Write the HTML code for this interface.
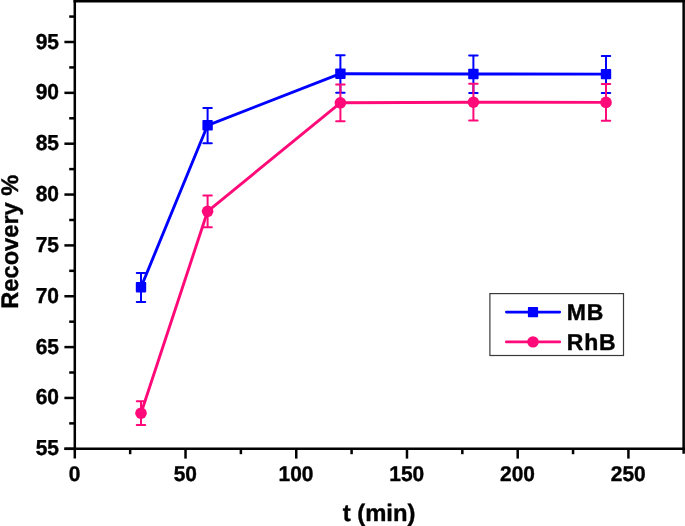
<!DOCTYPE html><html><head><meta charset="utf-8"><style>html,body{margin:0;padding:0;background:#fff}svg{display:block;will-change:transform;opacity:0.999}text{font-family:"Liberation Sans",sans-serif;font-weight:bold;text-rendering:geometricPrecision;fill:#000;stroke:#000;stroke-width:0.4px;stroke-linejoin:round}</style></head><body>
<svg width="685" height="526" viewBox="0 0 685 526">
<rect width="685" height="526" fill="#fff"/>
<path d="M141.0 273.0V301.9M136.75 273.0H145.25M136.75 301.9H145.25" stroke="#0000ff" stroke-width="2" fill="none" stroke-linecap="round"/>
<path d="M207.6 108.0V143.2M203.35 108.0H211.85M203.35 143.2H211.85" stroke="#0000ff" stroke-width="2" fill="none" stroke-linecap="round"/>
<path d="M340.4 55.2V92.7M336.15 55.2H344.65M336.15 92.7H344.65" stroke="#0000ff" stroke-width="2" fill="none" stroke-linecap="round"/>
<path d="M473.4 55.5V93.0M469.15 55.5H477.65M469.15 93.0H477.65" stroke="#0000ff" stroke-width="2" fill="none" stroke-linecap="round"/>
<path d="M606.0 55.9V93.0M601.75 55.9H610.25M601.75 93.0H610.25" stroke="#0000ff" stroke-width="2" fill="none" stroke-linecap="round"/>
<polyline points="141.0,287.2 207.6,125.3 340.4,73.7 473.4,74.0 606.0,74.1" fill="none" stroke="#0000ff" stroke-width="2.9" stroke-linejoin="round"/>
<rect x="135.8" y="282.0" width="10.4" height="10.4" rx="0.8" fill="#0000ff"/>
<rect x="202.4" y="120.1" width="10.4" height="10.4" rx="0.8" fill="#0000ff"/>
<rect x="335.2" y="68.5" width="10.4" height="10.4" rx="0.8" fill="#0000ff"/>
<rect x="468.2" y="68.8" width="10.4" height="10.4" rx="0.8" fill="#0000ff"/>
<rect x="600.8" y="68.9" width="10.4" height="10.4" rx="0.8" fill="#0000ff"/>
<path d="M141.0 401.2V425.0M136.75 401.2H145.25M136.75 425.0H145.25" stroke="#ff0a78" stroke-width="2" fill="none" stroke-linecap="round"/>
<path d="M207.6 195.6V227.2M203.35 195.6H211.85M203.35 227.2H211.85" stroke="#ff0a78" stroke-width="2" fill="none" stroke-linecap="round"/>
<path d="M340.4 84.6V121.3M336.15 84.6H344.65M336.15 121.3H344.65" stroke="#ff0a78" stroke-width="2" fill="none" stroke-linecap="round"/>
<path d="M473.4 83.8V120.4M469.15 83.8H477.65M469.15 120.4H477.65" stroke="#ff0a78" stroke-width="2" fill="none" stroke-linecap="round"/>
<path d="M606.0 84.1V120.7M601.75 84.1H610.25M601.75 120.7H610.25" stroke="#ff0a78" stroke-width="2" fill="none" stroke-linecap="round"/>
<polyline points="141.0,413.2 207.6,211.3 340.4,102.8 473.4,102.2 606.0,102.4" fill="none" stroke="#ff0a78" stroke-width="2.9" stroke-linejoin="round"/>
<circle cx="141.0" cy="413.2" r="5.8" fill="#ff0a78"/>
<circle cx="207.6" cy="211.3" r="5.8" fill="#ff0a78"/>
<circle cx="340.4" cy="102.8" r="5.8" fill="#ff0a78"/>
<circle cx="473.4" cy="102.2" r="5.8" fill="#ff0a78"/>
<circle cx="606.0" cy="102.4" r="5.8" fill="#ff0a78"/>
<g stroke="#000" stroke-width="2.5" fill="none" stroke-linecap="butt">
<path d="M74.8 0V458.6"/>
<path d="M73.55 1.3H685"/>
<path d="M683.65 0V453.8"/>
<path d="M64.4 448.8H685"/>
<path d="M64.4 448.80H74.8"/>
<path d="M64.4 397.95H74.8"/>
<path d="M64.4 347.10H74.8"/>
<path d="M64.4 296.25H74.8"/>
<path d="M64.4 245.40H74.8"/>
<path d="M64.4 194.55H74.8"/>
<path d="M64.4 143.70H74.8"/>
<path d="M64.4 92.85H74.8"/>
<path d="M64.4 42.00H74.8"/>
<path d="M69.2 423.38H74.8"/>
<path d="M69.2 372.52H74.8"/>
<path d="M69.2 321.68H74.8"/>
<path d="M69.2 270.83H74.8"/>
<path d="M69.2 219.98H74.8"/>
<path d="M69.2 169.12H74.8"/>
<path d="M69.2 118.28H74.8"/>
<path d="M69.2 67.43H74.8"/>
<path d="M69.2 16.57H74.8"/>
<path d="M185.53 448.8V458.6"/>
<path d="M296.25 448.8V458.6"/>
<path d="M406.98 448.8V458.6"/>
<path d="M517.70 448.8V458.6"/>
<path d="M628.42 448.8V458.6"/>
<path d="M130.16 448.8V454.2"/>
<path d="M240.89 448.8V454.2"/>
<path d="M351.61 448.8V454.2"/>
<path d="M462.34 448.8V454.2"/>
<path d="M573.06 448.8V454.2"/>
</g>
<text transform="translate(59.0 455.30) scale(0.967 1)" font-size="21.7" text-anchor="end">55</text>
<text transform="translate(59.0 404.45) scale(0.967 1)" font-size="21.7" text-anchor="end">60</text>
<text transform="translate(59.0 353.60) scale(0.967 1)" font-size="21.7" text-anchor="end">65</text>
<text transform="translate(59.0 302.75) scale(0.967 1)" font-size="21.7" text-anchor="end">70</text>
<text transform="translate(59.0 251.90) scale(0.967 1)" font-size="21.7" text-anchor="end">75</text>
<text transform="translate(59.0 201.05) scale(0.967 1)" font-size="21.7" text-anchor="end">80</text>
<text transform="translate(59.0 150.20) scale(0.967 1)" font-size="21.7" text-anchor="end">85</text>
<text transform="translate(59.0 99.35) scale(0.967 1)" font-size="21.7" text-anchor="end">90</text>
<text transform="translate(59.0 48.50) scale(0.967 1)" font-size="21.7" text-anchor="end">95</text>
<text transform="translate(74.60 480.7) scale(0.982 1)" font-size="21.3" text-anchor="middle">0</text>
<text transform="translate(185.33 480.7) scale(0.982 1)" font-size="21.3" text-anchor="middle">50</text>
<text transform="translate(296.05 480.7) scale(0.982 1)" font-size="21.3" text-anchor="middle">100</text>
<text transform="translate(406.78 480.7) scale(0.982 1)" font-size="21.3" text-anchor="middle">150</text>
<text transform="translate(517.50 480.7) scale(0.982 1)" font-size="21.3" text-anchor="middle">200</text>
<text transform="translate(628.22 480.7) scale(0.982 1)" font-size="21.3" text-anchor="middle">250</text>
<text x="379.1" y="520.8" font-size="23.8" text-anchor="middle">t (min)</text>
<text transform="translate(17.5 241.7) rotate(-90) scale(0.985 1)" font-size="24" text-anchor="middle">Recovery %</text>
<rect x="489.9" y="293.6" width="133.6" height="61.9" fill="#fff" stroke="#3a3a3a" stroke-width="1.2"/>
<path d="M506.3 312.1H559.8" stroke="#0000ff" stroke-width="2.6" stroke-linecap="round"/><rect x="527.9" y="307" width="10.2" height="10.2" rx="0.8" fill="#0000ff"/>
<path d="M506.3 341.9H559.8" stroke="#ff0a78" stroke-width="2.6" stroke-linecap="round"/><circle cx="533" cy="341.9" r="5.7" fill="#ff0a78"/>
<text x="566.8" y="320.3" font-size="23" letter-spacing="0.75">MB</text>
<text x="566.8" y="350.3" font-size="23" letter-spacing="0.75">RhB</text>
</svg></body></html>
